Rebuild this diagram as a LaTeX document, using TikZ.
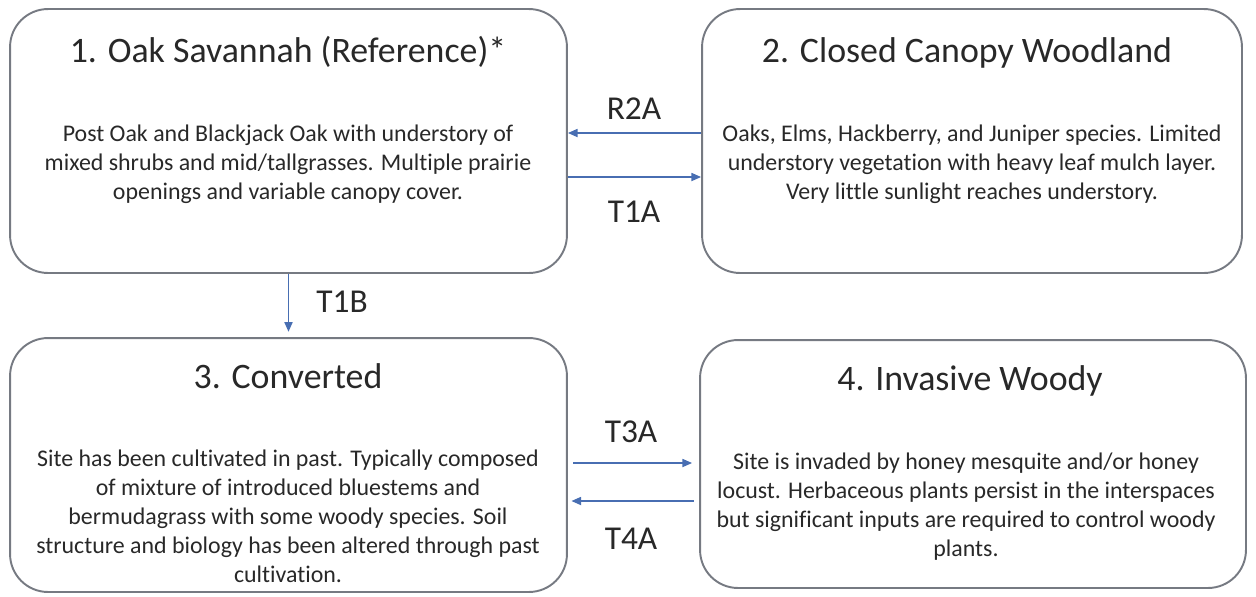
\documentclass[tikz,border=0pt]{standalone}
\usepackage{fontspec}
\setmainfont{Carlito}[Ligatures=NoCommon]
\usetikzlibrary{arrows.meta}

\definecolor{boxgray}{RGB}{118,122,130}
\definecolor{flowblue}{RGB}{72,110,178}
\definecolor{inkgray}{RGB}{40,40,40}

\tikzset{
  state/.style={draw=boxgray, line width=1.1pt, rounded corners=0.76cm, inner sep=0pt},
  heading/.style={anchor=base, text=inkgray, font=\fontsize{20.4}{24}\selectfont},
  blurb/.style={anchor=base, align=center, text=inkgray, inner sep=0pt, font=\fontsize{13.6}{16.5}\selectfont},
  trans/.style={anchor=base, text=inkgray, font=\fontsize{19}{22}\selectfont},
  flow/.style={draw=flowblue, line width=0.85pt, -{Triangle[length=5.5pt,width=4.6pt]}}
}

\begin{document}
\begin{tikzpicture}[x=0.02cm, y=-0.02cm]
  \useasboundingbox (0,0) rectangle (1256,596);
  % the four states
  \node[state, minimum width=11.14cm, minimum height=5.28cm] (s1) at (288.5,141) {};
  \node[state, minimum width=10.8cm, minimum height=5.28cm] (s2) at (972,141) {};
  \node[state, minimum width=11.14cm, minimum height=5.08cm] (s3) at (288.5,465) {};
  \node[state, minimum width=10.92cm, minimum height=4.96cm] (s4) at (973,464) {};
  % headings
  \node[heading] (h1) at (288,62) {1. Oak Savannah (Reference)*};
  \node[heading] (h2) at (967,62) {2. Closed Canopy Woodland};
  \node[heading] (h3) at (288,388) {3. Converted};
  \node[heading] (h4) at (970,390) {4. Invasive Woody};
  % descriptions (base = last line)
  \node[blurb] (d1) at (288,199) {Post Oak and Blackjack Oak with understory of\\
    mixed shrubs and mid/tallgrasses. Multiple prairie\\
    openings and variable canopy cover.};
  \node[blurb] (d2) at (972,199) {Oaks, Elms, Hackberry, and Juniper species. Limited\\
    understory vegetation with heavy leaf mulch layer.\\
    Very little sunlight reaches understory.};
  \node[blurb] (d3) at (288,582) {Site has been cultivated in past. Typically composed\\
    of mixture of introduced bluestems and\\
    bermudagrass with some woody species. Soil\\
    structure and biology has been altered through past\\
    cultivation.};
  \node[blurb] (d4) at (966,556) {Site is invaded by honey mesquite and/or honey\\
    locust. Herbaceous plants persist in the interspaces\\
    but significant inputs are required to control woody\\
    plants.};
  % transitions
  \coordinate (yR2A) at (0,133);
  \coordinate (yT1A) at (0,177);
  \coordinate (yT3A) at (0,463);
  \coordinate (yT4A) at (0,501);
  \draw[flow] (s2.west |- yR2A) -- (s1.east |- yR2A);
  \draw[flow] (s1.east |- yT1A) -- (s2.west |- yT1A);
  \draw[flow, shorten >=3pt] (s1.south) -- (s3.north);
  \draw[flow, shorten <=3pt, shorten >=4pt] (s3.east |- yT3A) -- (s4.west |- yT3A);
  \draw[flow, shorten <=3pt, shorten >=2pt] (s4.west |- yT4A) -- (s3.east |- yT4A);
  \node[trans] (lR2A) at (634,119) {R2A};
  \node[trans] (lT1A) at (634,222) {T1A};
  \node[trans] (lT1B) at (342,312) {T1B};
  \node[trans] (lT3A) at (631,442) {T3A};
  \node[trans] (lT4A) at (631,549) {T4A};
\end{tikzpicture}
\end{document}
